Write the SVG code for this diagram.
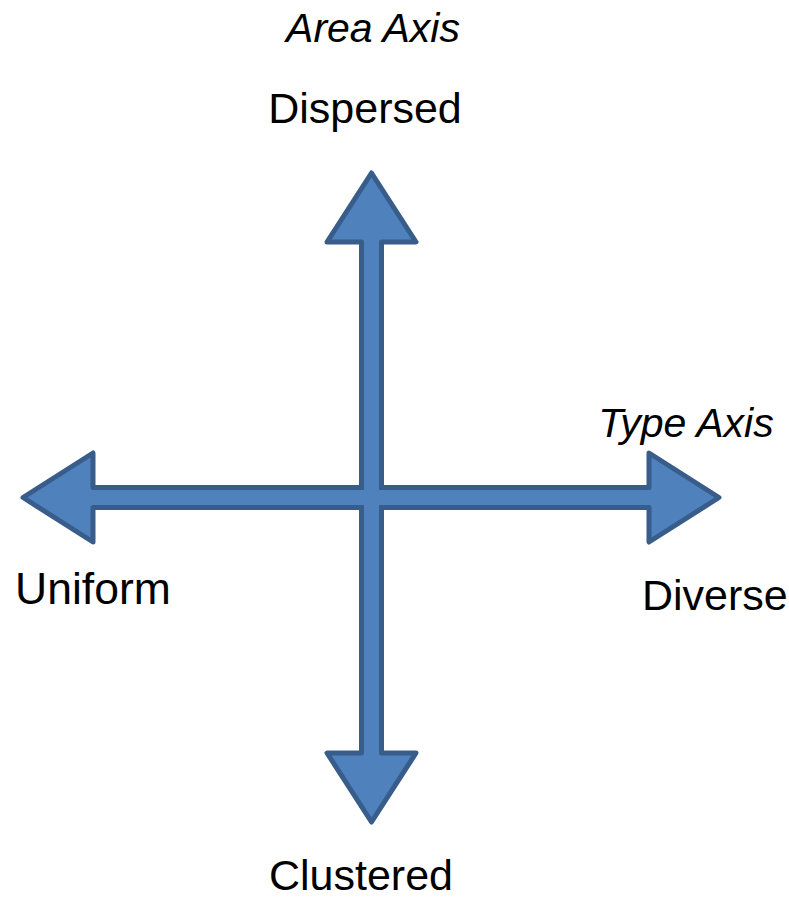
<svg xmlns="http://www.w3.org/2000/svg" width="789" height="899" viewBox="0 0 789 899">
  <style>
    .arrow { fill: #4F81BD; stroke: #385D8A; stroke-width: 5; stroke-linejoin: round; }
    .patch { fill: #4F81BD; stroke: none; }
    .lbl { font-family: "Liberation Sans", Arial, sans-serif; font-size: 43px; fill: #000; }
    .axis { font-family: "Liberation Sans", Arial, sans-serif; font-size: 41px; font-style: italic; fill: #000; }
  </style>
  <g id="connectors">
    <polygon id="area-axis-arrow" class="arrow" points="371.5,173 416,242 381.5,242 381.5,753 416,753 371.5,822 327,753 361.5,753 361.5,242 327,242"/>
    <polygon id="type-axis-arrow" class="arrow" points="23,497.5 93,453 93,487.5 649,487.5 649,453 719,497.5 649,542 649,507.5 93,507.5 93,542"/>
    <rect class="patch" x="364" y="485" width="15" height="25"/>
    <rect class="patch" x="359" y="490" width="25" height="15"/>
  </g>
  <g id="area-axis-label"><text class="axis" x="373" y="42" text-anchor="middle">Area Axis</text></g>
  <g id="dispersed"><text class="lbl" x="365" y="123" text-anchor="middle">Dispersed</text></g>
  <g id="type-axis-label"><text class="axis" x="686" y="437" text-anchor="middle">Type Axis</text></g>
  <g id="uniform"><text class="lbl" x="15" y="604" style="font-size:44.5px">Uniform</text></g>
  <g id="diverse"><text class="lbl" x="642" y="610">Diverse</text></g>
  <g id="clustered"><text class="lbl" x="361" y="890" text-anchor="middle">Clustered</text></g>
</svg>
